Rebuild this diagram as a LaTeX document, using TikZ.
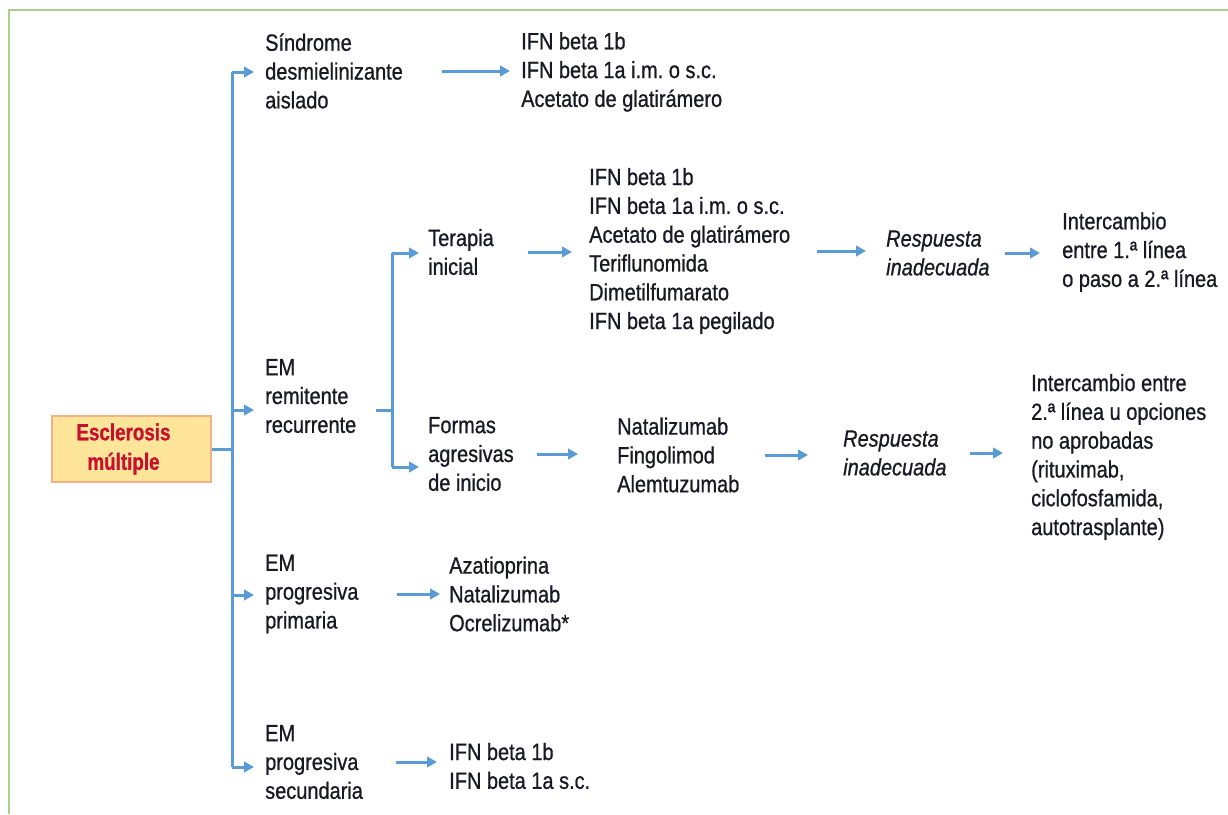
\documentclass[tikz,border=0pt]{standalone}
\usepackage{fontspec}
\setmainfont{Liberation Sans}[FakeStretch=0.85, FakeBold=0.8]
\usetikzlibrary{arrows.meta,positioning,calc}
\definecolor{linkblue}{RGB}{91,155,213}
\definecolor{framegreen}{RGB}{169,209,142}
\definecolor{boxfill}{RGB}{255,229,153}
\definecolor{boxline}{RGB}{244,177,131}
\definecolor{titlered}{RGB}{200,16,46}
\definecolor{inkblack}{RGB}{25,25,35}
\frenchspacing
\tikzset{
    txt/.style={anchor=west, inner sep=0pt, align=left, text=inkblack,
        font=\fontsize{23.5}{28.8}\selectfont},
    resp/.style={txt, font=\fontsize{23.5}{28.8}\selectfont\itshape},
    arr/.style={draw=linkblue, line width=3pt, -{Triangle[length=10pt,width=10.5pt]}},
    trunk/.style={draw=linkblue, line width=3pt}
}

\begin{document}
\begin{tikzpicture}[x=1pt, y=-1pt]
    \useasboundingbox (0,0) rectangle (1228,814);
    % Frame
    \draw[framegreen, line width=1.5pt] (1228,10) -- (9,10) -- (9,814);

    % Root
    \node[draw=boxline, fill=boxfill, line width=1.2pt, minimum width=159pt, minimum height=66pt]
        (root) at (131.5,449) {};
    \node[align=center, inner sep=0pt, text=titlered,
        font=\fontsize{23.5}{29.5}\selectfont\bfseries\addfontfeature{FakeStretch=0.8}]
        (title) at ([xshift=-8pt]root.center) {Esclerosis\\múltiple};

    % Trunk
    \coordinate (t0) at (232,449);
    \coordinate (t1) at (232,72);
    \coordinate (t2) at (232,410);
    \coordinate (t3) at (232,595);
    \coordinate (t4) at (232,767);
    \draw[trunk] (root.east) -- (t0);
    \draw[trunk] (t1) -- (t4);

    % First level
    \node[txt] (sind) at (265,71) {Síndrome\\desmielinizante\\aislado};
    \node[txt] (rem) at (265,396) {EM\\remitente\\recurrente};
    \node[txt] (prim) at (265,594) {EM\\progresiva\\primaria};
    \node[txt] (sec) at (265,762) {EM\\progresiva\\secundaria};
    \foreach \t/\n in {t1/sind, t2/rem, t3/prim, t4/sec}
        \draw[arr, shorten >=11pt] (\t) -- (\t -| \n.west);

    % EM remitente recurrente
    \coordinate (j0) at (392,410);
    \coordinate (j1) at (392,253);
    \coordinate (j2) at (392,467);
    \draw[trunk, shorten <=20pt] (j0 -| rem.east) -- (j0);
    \draw[trunk] (j1) -- (j2);
    \node[txt] (ter) at (428,252) {Terapia\\inicial};
    \node[txt] (form) at (428,454) {Formas\\agresivas\\de inicio};
    \draw[arr, shorten >=9pt] (j1) -- (j1 -| ter.west);
    \draw[arr, shorten >=9pt] (j2) -- (j2 -| form.west);

    % Síndrome desmielinizante aislado
    \node[txt] (cis) at (521,72) {IFN beta 1b\\IFN beta 1a i.m. o s.c.\\Acetato de glatirámero};
    \draw[arr, shorten <=39pt, shorten >=11pt] (sind.east) -- (sind.east -| cis.west);

    % Terapia inicial
    \node[txt] (first) at (589,251) {IFN beta 1b\\IFN beta 1a i.m. o s.c.\\Acetato de glatirámero\\Teriflunomida\\Dimetilfumarato\\IFN beta 1a pegilado};
    \node[resp] (resp1) at (886,253) {Respuesta\\inadecuada};
    \node[txt] (swap1) at (1062,252) {Intercambio\\entre 1.ª línea\\o paso a 2.ª línea};
    \draw[arr, shorten <=34pt, shorten >=17pt] (ter.east) -- (ter.east -| first.west);
    \draw[arr, shorten <=27pt, shorten >=20pt] (first.east) -- (first.east -| resp1.west);
    \draw[arr, shorten <=15pt, shorten >=22pt] (resp1.east) -- (resp1.east -| swap1.west);

    % Formas agresivas
    \node[txt] (second) at (617,455) {Natalizumab\\Fingolimod\\Alemtuzumab};
    \node[resp] (resp2) at (843,453) {Respuesta\\inadecuada};
    \node[txt] (swap2) at (1031,457) {Intercambio entre\\2.ª línea u opciones\\no aprobadas\\(rituximab,\\ciclofosfamida,\\autotrasplante)};
    \draw[arr, shorten <=23pt, shorten >=39pt] (form.east) -- (form.east -| second.west);
    \draw[arr, shorten <=25pt, shorten >=35pt] (second.east) -- (second.east -| resp2.west);
    \draw[arr, shorten <=23pt, shorten >=28pt] (resp2.east) -- (resp2.east -| swap2.west);

    % Progresivas
    \node[txt] (ppms) at (449,594) {Azatioprina\\Natalizumab\\Ocrelizumab*};
    \node[txt] (spms) at (449,766) {IFN beta 1b\\IFN beta 1a s.c.};
    \draw[arr, shorten <=38pt, shorten >=9pt] (prim.east) -- (prim.east -| ppms.west);
    \draw[arr, shorten <=33pt, shorten >=12pt] (sec.east) -- (sec.east -| spms.west);
\end{tikzpicture}
\end{document}
